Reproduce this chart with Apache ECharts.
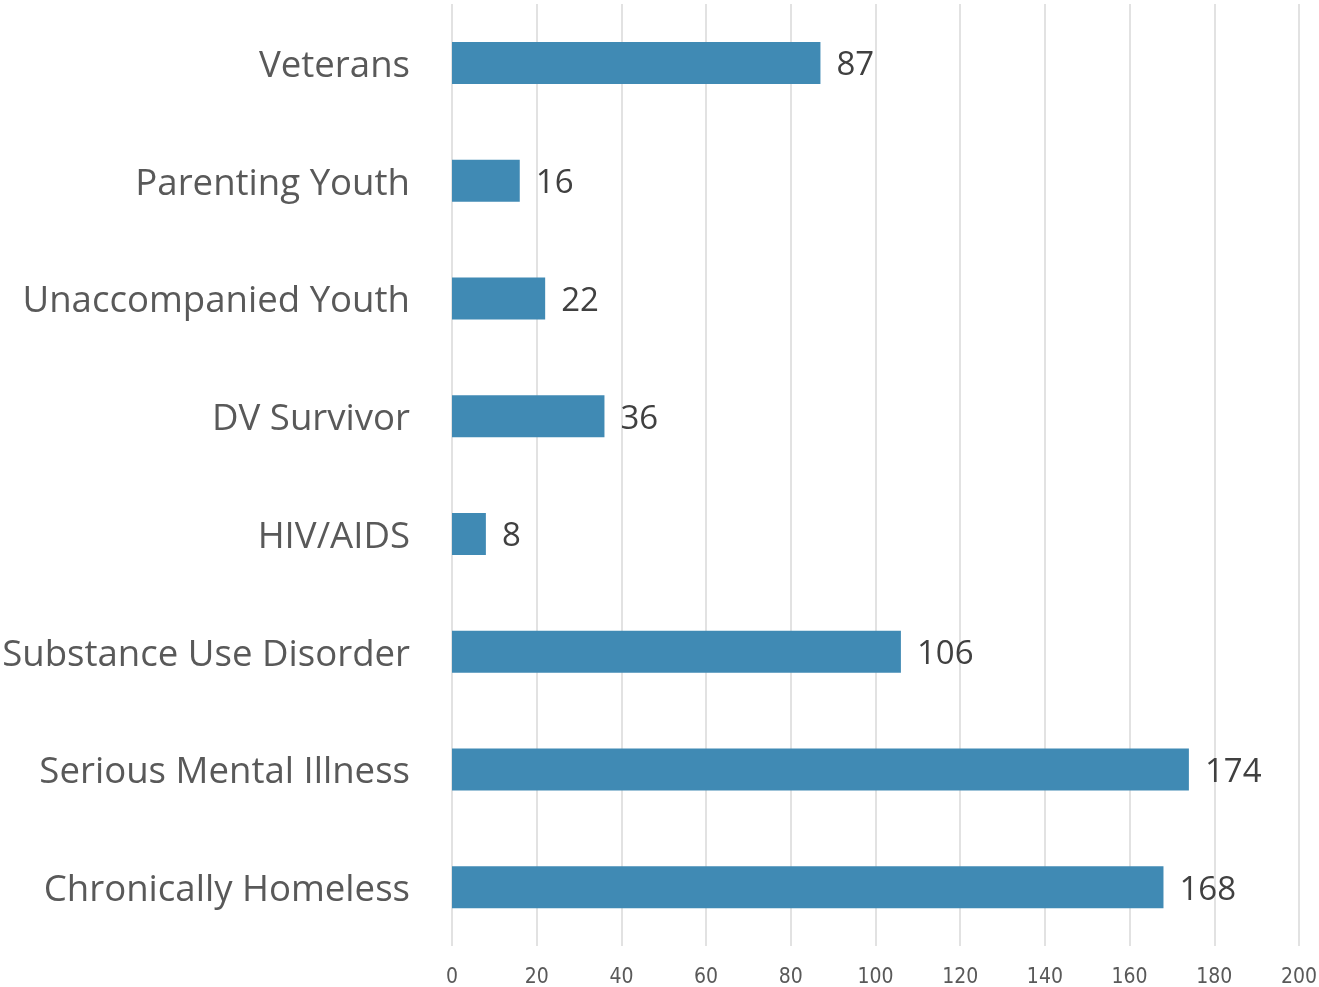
<!DOCTYPE html>
<html><head><meta charset="utf-8">
<script src="https://cdn.jsdelivr.net/npm/echarts@6/dist/echarts.min.js"></script>
<style>html,body{margin:0;padding:0;background:#fff}#c{width:1319px;height:987px}</style>
</head><body><div id="c"></div>
<script>
const categories = ["Veterans","Parenting Youth","Unaccompanied Youth","DV Survivor","HIV/AIDS","Substance Use Disorder","Serious Mental Illness","Chronically Homeless"];
const values = [87,16,22,36,8,106,174,168];
const xTicks = [0,20,40,60,80,100,120,140,160,180,200];

const chart = echarts.init(document.getElementById('c'));
chart.setOption({
  animation:false,
  grid:{left:452,right:20,top:4,bottom:41,containLabel:false,outerBoundsMode:'none'},
  xAxis:{type:'value',min:xTicks[0],max:xTicks[xTicks.length-1],interval:20,
    axisLine:{show:false},axisTick:{show:false},
    splitLine:{show:true,lineStyle:{color:'#d9d9d9',width:1.5}},
    axisLabel:{color:'#595959',fontSize:21,margin:21,fontFamily:'"Liberation Sans Narrow","DejaVu Sans Condensed",sans-serif'}},
  yAxis:{type:'category',data:categories,inverse:true,
    axisLine:{show:false},axisTick:{show:false},
    axisLabel:{color:'#595959',fontSize:36.6,margin:42,fontFamily:'"Open Sans",sans-serif',
      formatter:function(v){return '{a|'+v+'}';},
      rich:{a:{color:'#595959',fontSize:36.6,fontFamily:'"Open Sans",sans-serif',padding:[7,0,0,0]}}}},
  series:[{type:'bar',data:values,barWidth:42,
    itemStyle:{color:'#408ab4'},
    label:{show:true,position:'right',distance:16,offset:[0,3],color:'#404040',fontSize:33,fontFamily:'"Open Sans",sans-serif'}}]
});
</script></body></html>
